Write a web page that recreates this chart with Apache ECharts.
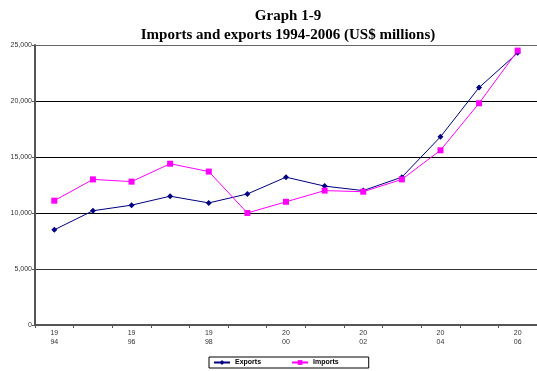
<!DOCTYPE html>
<html>
<head>
<meta charset="utf-8">
<script src="https://cdn.jsdelivr.net/npm/echarts@6/dist/echarts.min.js"></script>
<style>
  html, body { margin: 0; padding: 0; background: #fff; }
  #chart { width: 537px; height: 371px; }
</style>
</head>
<body>
<div id="chart"></div>
<script>
// Years on the category axis
var years = ['1994', '1995', '1996', '1997', '1998', '1999', '2000',
             '2001', '2002', '2003', '2004', '2005', '2006'];
// US$ millions
var exportsData = [8500, 10200, 10700, 11500, 10900, 11700, 13200,
                   12400, 12000, 13200, 16800, 21200, 24300];
var importsData = [11100, 13000, 12800, 14400, 13700, 10000, 11000,
                   12000, 11900, 13000, 15600, 19800, 24500];
var yTicks = [0, 5000, 10000, 15000, 20000, 25000];

var chart = echarts.init(document.getElementById('chart'), null, { renderer: 'canvas' });

chart.setOption({
  animation: false,
  backgroundColor: '#fff',
  title: {
    text: 'Graph 1-9\nImports and exports 1994-2006 (US$ millions)',
    left: 283,
    textAlign: 'center',
    top: 2,
    textStyle: {
      fontFamily: 'Liberation Serif',
      fontWeight: 'bold',
      fontSize: 15,
      lineHeight: 19,
      color: '#000'
    }
  },
  legend: {
    left: 209,
    top: 357,
    itemWidth: 16,
    itemHeight: 6,
    itemGap: 30,
    padding: [2, 30, 2, 4],
    borderColor: '#000',
    borderWidth: 1,
    textStyle: { fontFamily: 'Liberation Sans', fontSize: 7, fontWeight: 'bold', color: '#000', width: 50 },
    data: ['Exports', 'Imports']
  },
  grid: { left: 35, top: 45, width: 508, height: 280, containLabel: false },
  xAxis: {
    type: 'category',
    data: years,
    boundaryGap: true,
    axisLine: { lineStyle: { color: '#555', width: 2 } },
    axisTick: { show: true, interval: 0, length: 3, lineStyle: { color: '#555' } },
    axisLabel: {
      interval: 1,
      fontFamily: 'Liberation Sans',
      fontSize: 7,
      lineHeight: 9,
      color: '#333',
      margin: 4,
      formatter: function (v) { return v.slice(0, 2) + '\n' + v.slice(2); }
    },
    splitLine: { show: false }
  },
  yAxis: {
    type: 'value',
    min: yTicks[0],
    max: yTicks[yTicks.length - 1],
    interval: 5000,
    axisLine: { show: true, lineStyle: { color: '#555', width: 2 } },
    axisTick: { show: true, length: 3, lineStyle: { color: '#555' } },
    axisLabel: {
      fontFamily: 'Liberation Sans',
      fontSize: 7,
      color: '#333',
      margin: 3,
      formatter: function (v) { return v === 0 ? '0' : v.toLocaleString('en-US'); }
    },
    splitLine: {
      show: true,
      lineStyle: { color: ['#555', '#333', '#000', '#000', '#000', '#666'], width: 1 }
    }
  },
  series: [
    {
      name: 'Exports',
      type: 'line',
      data: exportsData,
      symbol: 'diamond',
      symbolSize: 6,
      itemStyle: { color: '#000080' },
      lineStyle: { color: '#000080', width: 1 }
    },
    {
      name: 'Imports',
      type: 'line',
      data: importsData,
      symbol: 'rect',
      symbolSize: 6,
      itemStyle: { color: '#ff00ff' },
      lineStyle: { color: '#ff00ff', width: 1 }
    }
  ]
});
</script>
</body>
</html>
